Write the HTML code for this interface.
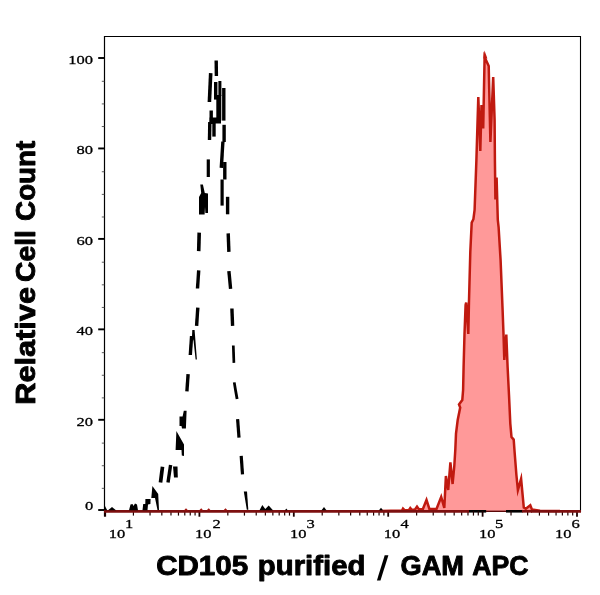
<!DOCTYPE html>
<html lang="en"><head><meta charset="utf-8"><title>CD105 purified / GAM APC</title>
<style>
html,body{margin:0;padding:0;background:#fff;}
body{width:600px;height:595px;overflow:hidden;position:relative;font-family:"Liberation Sans",sans-serif;}
svg{position:absolute;left:0;top:0;display:block;will-change:transform;}
.tk{font-family:"Liberation Serif",serif;font-size:13px;fill:#000;stroke:#000;stroke-width:0.3px;}
.ttl{font-family:"Liberation Sans",sans-serif;font-weight:bold;fill:#000;stroke:#000;stroke-width:0.9px;stroke-linejoin:round;}
</style></head><body>
<svg width="600" height="595" viewBox="0 0 600 595">
<rect x="0" y="0" width="600" height="595" fill="#ffffff"/>
<polygon points="380.0,511.0 402.0,510.5 403.0,508.6 404.5,510.2 409.0,510.0 410.3,508.0 412.0,510.0 415.0,509.5 417.0,506.6 419.0,509.5 422.9,509.0 426.5,500.0 429.4,509.0 436.5,509.0 441.2,497.0 444.3,508.0 445.9,476.0 448.2,490.0 450.4,462.4 452.6,484.0 454.3,466.0 455.3,450.0 456.0,433.7 457.7,420.0 460.2,407.5 459.0,404.5 462.3,400.0 463.1,390.0 463.6,367.0 464.5,334.0 465.6,305.0 466.2,302.5 468.3,334.0 469.0,300.8 470.3,252.0 471.7,222.6 473.4,219.2 474.6,210.0 476.4,160.0 477.3,130.0 478.3,97.0 480.3,151.0 481.5,105.0 483.2,128.5 484.6,57.0 488.7,66.0 490.4,142.0 493.2,77.0 494.6,120.0 494.9,160.0 495.4,199.5 496.6,177.5 497.8,220.0 498.6,227.0 500.6,260.4 502.6,310.0 503.5,334.0 504.3,360.0 506.3,334.5 507.6,367.0 509.0,395.0 510.3,423.6 511.5,437.0 513.7,439.6 514.6,452.0 516.4,475.0 517.9,490.0 521.1,478.8 523.8,507.6 525.8,508.8 530.3,505.3 532.0,509.6 540.0,510.8 560.0,511.0 560,511.3 380,511.3" fill="#ff9999"/>
<line x1="468.8" y1="511.3" x2="486.2" y2="511.3" stroke="#000" stroke-width="2.6"/>
<line x1="506.0" y1="511.3" x2="522.6" y2="511.3" stroke="#000" stroke-width="2.6"/>
<polyline points="380.0,511.0 402.0,510.5 403.0,508.6 404.5,510.2 409.0,510.0 410.3,508.0 412.0,510.0 415.0,509.5 417.0,506.6 419.0,509.5 422.9,509.0 426.5,500.0 429.4,509.0 436.5,509.0 441.2,497.0 444.3,508.0 445.9,476.0 448.2,490.0 450.4,462.4 452.6,484.0 454.3,466.0 455.3,450.0 456.0,433.7 457.7,420.0 460.2,407.5 459.0,404.5 462.3,400.0 463.1,390.0 463.6,367.0 464.5,334.0 465.6,305.0 466.2,302.5 468.3,334.0 469.0,300.8 470.3,252.0 471.7,222.6 473.4,219.2 474.6,210.0 476.4,160.0 477.3,130.0 478.3,97.0 480.3,151.0 481.5,105.0 483.2,128.5 484.6,57.0 488.7,66.0 490.4,142.0 493.2,77.0 494.6,120.0 494.9,160.0 495.4,199.5 496.6,177.5 497.8,220.0 498.6,227.0 500.6,260.4 502.6,310.0 503.5,334.0 504.3,360.0 506.3,334.5 507.6,367.0 509.0,395.0 510.3,423.6 511.5,437.0 513.7,439.6 514.6,452.0 516.4,475.0 517.9,490.0 521.1,478.8 523.8,507.6 525.8,508.8 530.3,505.3 532.0,509.6 540.0,510.8 560.0,511.0" fill="none" stroke="#c01a10" stroke-width="2.5" stroke-linejoin="miter" stroke-miterlimit="6"/>
<polygon points="484.5,50.6 483.3,58.5 487.4,58.5" fill="#c01a10"/>
<line x1="104.5" y1="36" x2="104.5" y2="516.6" stroke="#000" stroke-width="1.2"/>
<line x1="104" y1="36.5" x2="581" y2="36.5" stroke="#000" stroke-width="1.1"/>
<line x1="580.5" y1="36" x2="580.5" y2="512" stroke="#000" stroke-width="1.1"/>
<line x1="98.2" y1="510.00" x2="104.6" y2="510.00" stroke="#000" stroke-width="1.9"/>
<line x1="101.8" y1="488.34" x2="104.6" y2="488.34" stroke="#333" stroke-width="0.8"/>
<line x1="101.8" y1="465.73" x2="104.6" y2="465.73" stroke="#333" stroke-width="0.8"/>
<line x1="101.8" y1="443.11" x2="104.6" y2="443.11" stroke="#333" stroke-width="0.8"/>
<line x1="98.2" y1="419.80" x2="104.6" y2="419.80" stroke="#000" stroke-width="1.9"/>
<line x1="101.8" y1="397.89" x2="104.6" y2="397.89" stroke="#333" stroke-width="0.8"/>
<line x1="101.8" y1="375.27" x2="104.6" y2="375.27" stroke="#333" stroke-width="0.8"/>
<line x1="101.8" y1="352.66" x2="104.6" y2="352.66" stroke="#333" stroke-width="0.8"/>
<line x1="98.2" y1="329.35" x2="104.6" y2="329.35" stroke="#000" stroke-width="1.9"/>
<line x1="101.8" y1="307.44" x2="104.6" y2="307.44" stroke="#333" stroke-width="0.8"/>
<line x1="101.8" y1="284.82" x2="104.6" y2="284.82" stroke="#333" stroke-width="0.8"/>
<line x1="101.8" y1="262.21" x2="104.6" y2="262.21" stroke="#333" stroke-width="0.8"/>
<line x1="98.2" y1="238.90" x2="104.6" y2="238.90" stroke="#000" stroke-width="1.9"/>
<line x1="101.8" y1="216.99" x2="104.6" y2="216.99" stroke="#333" stroke-width="0.8"/>
<line x1="101.8" y1="194.38" x2="104.6" y2="194.38" stroke="#333" stroke-width="0.8"/>
<line x1="101.8" y1="171.76" x2="104.6" y2="171.76" stroke="#333" stroke-width="0.8"/>
<line x1="98.2" y1="148.45" x2="104.6" y2="148.45" stroke="#000" stroke-width="1.9"/>
<line x1="101.8" y1="126.54" x2="104.6" y2="126.54" stroke="#333" stroke-width="0.8"/>
<line x1="101.8" y1="103.92" x2="104.6" y2="103.92" stroke="#333" stroke-width="0.8"/>
<line x1="101.8" y1="81.31" x2="104.6" y2="81.31" stroke="#333" stroke-width="0.8"/>
<line x1="98.2" y1="58.00" x2="104.6" y2="58.00" stroke="#000" stroke-width="1.9"/>
<line x1="105.20" y1="511" x2="105.20" y2="516.7" stroke="#1a0000" stroke-width="1.8"/>
<line x1="133.42" y1="511" x2="133.42" y2="515.6" stroke="#200000" stroke-width="1.2"/>
<line x1="150.04" y1="511" x2="150.04" y2="515.6" stroke="#200000" stroke-width="1.2"/>
<line x1="161.83" y1="511" x2="161.83" y2="515.6" stroke="#200000" stroke-width="1.2"/>
<line x1="170.98" y1="511" x2="170.98" y2="515.6" stroke="#200000" stroke-width="1.2"/>
<line x1="178.46" y1="511" x2="178.46" y2="515.6" stroke="#200000" stroke-width="1.2"/>
<line x1="184.78" y1="511" x2="184.78" y2="515.6" stroke="#200000" stroke-width="1.2"/>
<line x1="190.25" y1="511" x2="190.25" y2="515.6" stroke="#200000" stroke-width="1.2"/>
<line x1="195.08" y1="511" x2="195.08" y2="515.6" stroke="#200000" stroke-width="1.2"/>
<line x1="199.40" y1="511" x2="199.40" y2="516.7" stroke="#1a0000" stroke-width="1.8"/>
<line x1="227.82" y1="511" x2="227.82" y2="515.6" stroke="#200000" stroke-width="1.2"/>
<line x1="244.44" y1="511" x2="244.44" y2="515.6" stroke="#200000" stroke-width="1.2"/>
<line x1="256.23" y1="511" x2="256.23" y2="515.6" stroke="#200000" stroke-width="1.2"/>
<line x1="265.38" y1="511" x2="265.38" y2="515.6" stroke="#200000" stroke-width="1.2"/>
<line x1="272.86" y1="511" x2="272.86" y2="515.6" stroke="#200000" stroke-width="1.2"/>
<line x1="279.18" y1="511" x2="279.18" y2="515.6" stroke="#200000" stroke-width="1.2"/>
<line x1="284.65" y1="511" x2="284.65" y2="515.6" stroke="#200000" stroke-width="1.2"/>
<line x1="289.48" y1="511" x2="289.48" y2="515.6" stroke="#200000" stroke-width="1.2"/>
<line x1="293.80" y1="511" x2="293.80" y2="516.7" stroke="#1a0000" stroke-width="1.8"/>
<line x1="322.22" y1="511" x2="322.22" y2="515.6" stroke="#200000" stroke-width="1.2"/>
<line x1="338.84" y1="511" x2="338.84" y2="515.6" stroke="#200000" stroke-width="1.2"/>
<line x1="350.63" y1="511" x2="350.63" y2="515.6" stroke="#200000" stroke-width="1.2"/>
<line x1="359.78" y1="511" x2="359.78" y2="515.6" stroke="#200000" stroke-width="1.2"/>
<line x1="367.26" y1="511" x2="367.26" y2="515.6" stroke="#200000" stroke-width="1.2"/>
<line x1="373.58" y1="511" x2="373.58" y2="515.6" stroke="#200000" stroke-width="1.2"/>
<line x1="379.05" y1="511" x2="379.05" y2="515.6" stroke="#200000" stroke-width="1.2"/>
<line x1="383.88" y1="511" x2="383.88" y2="515.6" stroke="#200000" stroke-width="1.2"/>
<line x1="388.20" y1="511" x2="388.20" y2="516.7" stroke="#1a0000" stroke-width="1.8"/>
<line x1="416.62" y1="511" x2="416.62" y2="515.6" stroke="#200000" stroke-width="1.2"/>
<line x1="433.24" y1="511" x2="433.24" y2="515.6" stroke="#200000" stroke-width="1.2"/>
<line x1="445.03" y1="511" x2="445.03" y2="515.6" stroke="#200000" stroke-width="1.2"/>
<line x1="454.18" y1="511" x2="454.18" y2="515.6" stroke="#200000" stroke-width="1.2"/>
<line x1="461.66" y1="511" x2="461.66" y2="515.6" stroke="#200000" stroke-width="1.2"/>
<line x1="467.98" y1="511" x2="467.98" y2="515.6" stroke="#200000" stroke-width="1.2"/>
<line x1="473.45" y1="511" x2="473.45" y2="515.6" stroke="#200000" stroke-width="1.2"/>
<line x1="478.28" y1="511" x2="478.28" y2="515.6" stroke="#200000" stroke-width="1.2"/>
<line x1="482.60" y1="511" x2="482.60" y2="516.7" stroke="#1a0000" stroke-width="1.8"/>
<line x1="511.02" y1="511" x2="511.02" y2="515.6" stroke="#200000" stroke-width="1.2"/>
<line x1="527.64" y1="511" x2="527.64" y2="515.6" stroke="#200000" stroke-width="1.2"/>
<line x1="539.43" y1="511" x2="539.43" y2="515.6" stroke="#200000" stroke-width="1.2"/>
<line x1="548.58" y1="511" x2="548.58" y2="515.6" stroke="#200000" stroke-width="1.2"/>
<line x1="556.06" y1="511" x2="556.06" y2="515.6" stroke="#200000" stroke-width="1.2"/>
<line x1="562.38" y1="511" x2="562.38" y2="515.6" stroke="#200000" stroke-width="1.2"/>
<line x1="567.85" y1="511" x2="567.85" y2="515.6" stroke="#200000" stroke-width="1.2"/>
<line x1="572.68" y1="511" x2="572.68" y2="515.6" stroke="#200000" stroke-width="1.2"/>
<line x1="577.00" y1="511" x2="577.00" y2="516.7" stroke="#1a0000" stroke-width="1.8"/>
<line x1="104" y1="511.3" x2="423" y2="511.3" stroke="#7d0f0f" stroke-width="2.7"/>
<line x1="531" y1="511.3" x2="581" y2="511.3" stroke="#7d0f0f" stroke-width="2.7"/>
<line x1="423" y1="511.3" x2="469" y2="511.3" stroke="#7d0f0f" stroke-width="2.7"/>
<line x1="486" y1="511.3" x2="506" y2="511.3" stroke="#5a0808" stroke-width="1.4"/>
<line x1="522" y1="511.3" x2="532" y2="511.3" stroke="#7d0f0f" stroke-width="2.7"/>
<polygon points="183.8,510.4 186.0,508.2 188.2,510.4" fill="#a01510"/>
<polygon points="199.0,510.4 201.2,508.2 203.4,510.4" fill="#a01510"/>
<polygon points="206.5,510.4 208.7,508.2 210.9,510.4" fill="#a01510"/>
<polygon points="223.3,510.4 225.5,508.2 227.7,510.4" fill="#a01510"/>
<line x1="216.2" y1="60.5" x2="216.4" y2="76.0" stroke="#000" stroke-width="3.4"/>
<line x1="210.7" y1="73.2" x2="209.4" y2="102.0" stroke="#000" stroke-width="3.6"/>
<line x1="215.7" y1="82.0" x2="215.7" y2="99.6" stroke="#000" stroke-width="3.4"/>
<line x1="219.9" y1="81.0" x2="219.9" y2="96.0" stroke="#000" stroke-width="3.0"/>
<line x1="218.8" y1="95.0" x2="218.8" y2="120.6" stroke="#000" stroke-width="5.0"/>
<line x1="223.8" y1="88.0" x2="223.8" y2="120.6" stroke="#000" stroke-width="3.4"/>
<line x1="211.2" y1="110.5" x2="211.2" y2="124.0" stroke="#000" stroke-width="3.4"/>
<line x1="209.8" y1="122.0" x2="209.5" y2="140.0" stroke="#000" stroke-width="3.4"/>
<line x1="214.0" y1="118.0" x2="214.0" y2="136.6" stroke="#000" stroke-width="3.4"/>
<line x1="224.1" y1="124.8" x2="224.1" y2="142.0" stroke="#000" stroke-width="3.4"/>
<line x1="222.9" y1="141.7" x2="221.3" y2="167.8" stroke="#000" stroke-width="3.4"/>
<line x1="208.3" y1="159.4" x2="208.3" y2="177.0" stroke="#000" stroke-width="3.2"/>
<line x1="224.8" y1="162.0" x2="224.8" y2="179.5" stroke="#000" stroke-width="3.4"/>
<line x1="222.1" y1="179.5" x2="222.1" y2="205.6" stroke="#000" stroke-width="3.2"/>
<line x1="227.6" y1="196.8" x2="227.6" y2="214.3" stroke="#000" stroke-width="3.4"/>
<line x1="199.2" y1="232.6" x2="198.7" y2="251.1" stroke="#000" stroke-width="3.6"/>
<line x1="198.7" y1="270.4" x2="197.5" y2="288.5" stroke="#000" stroke-width="3.4"/>
<line x1="197.8" y1="307.7" x2="196.6" y2="325.9" stroke="#000" stroke-width="3.4"/>
<line x1="228.2" y1="233.4" x2="228.9" y2="251.9" stroke="#000" stroke-width="3.4"/>
<line x1="228.9" y1="271.2" x2="230.6" y2="288.9" stroke="#000" stroke-width="3.4"/>
<line x1="231.9" y1="308.5" x2="232.6" y2="325.9" stroke="#000" stroke-width="3.4"/>
<line x1="191.6" y1="336.0" x2="190.3" y2="355.0" stroke="#000" stroke-width="3.4"/>
<line x1="188.1" y1="374.1" x2="186.9" y2="391.4" stroke="#000" stroke-width="3.4"/>
<line x1="233.3" y1="345.5" x2="233.9" y2="362.9" stroke="#000" stroke-width="2.7"/>
<line x1="237.6" y1="419.2" x2="239.0" y2="437.7" stroke="#000" stroke-width="3.2"/>
<line x1="241.2" y1="455.9" x2="242.5" y2="474.3" stroke="#000" stroke-width="3.2"/>
<line x1="170.6" y1="465.0" x2="168.0" y2="482.5" stroke="#000" stroke-width="3.4"/>
<line x1="162.5" y1="466.7" x2="160.5" y2="482.5" stroke="#000" stroke-width="3.7"/>
<polygon points="209.6,117.5 221.0,117.5 221.0,123.5 209.6,123.5" fill="#000"/>
<polygon points="200.3,184.5 202.9,184.5 204.8,193.0 208.0,193.5 208.0,213.0 205.4,213.0 205.0,207.0 204.6,214.5 199.0,214.5 199.0,197.0 201.2,193.0" fill="#000"/>
<polygon points="192.3,330.0 194.6,330.0 196.9,359.5 195.6,359.5 193.6,341.0 192.0,336.0" fill="#000"/>
<polygon points="232.9,382.5 235.6,382.3 237.0,390.4 238.5,398.8 235.7,399.3 234.2,390.8" fill="#000"/>
<polygon points="183.8,410.8 186.6,410.8 185.9,428.5 182.0,428.5 181.5,426.0 179.5,426.0 179.5,416.5 182.6,416.5" fill="#000"/>
<polygon points="176.4,431.0 184.0,444.5 184.0,456.0 181.8,455.5 181.5,450.0 175.6,450.0" fill="#000"/>
<polygon points="173.0,466.5 177.5,466.5 177.8,477.5 174.0,477.5" fill="#000"/>
<polygon points="152.4,486.0 158.2,494.0 159.0,510.0 157.5,510.0 155.0,498.0 151.3,498.0" fill="#000"/>
<polygon points="145.4,499.0 150.6,499.0 150.4,504.0 148.0,504.5 147.5,510.3 142.5,510.3 143.2,504.0 145.3,504.0" fill="#000"/>
<polygon points="129.0,510.3 130.5,504.5 132.5,504.0 133.5,506.0 135.0,503.5 137.0,504.5 138.0,510.3" fill="#000"/>
<polygon points="108.0,510.3 112.0,507.0 116.0,510.3" fill="#000"/>
<polygon points="104.5,505.0 107.2,510.3 104.5,510.3" fill="#000"/>
<polygon points="243.8,491.5 247.0,491.5 248.3,509.8 246.8,509.8" fill="#000"/>
<polygon points="259.5,510.3 262.3,505.0 265.3,509.0 268.7,505.5 273.0,510.3" fill="#000"/>
<polygon points="285.0,510.3 286.3,508.6 287.6,510.3" fill="#000"/>
<polygon points="321.5,510.3 324.0,507.0 326.5,510.3" fill="#000"/>
<polygon points="379.0,510.3 381.0,507.8 383.0,510.3" fill="#000"/>
<text class="tk" transform="translate(93.00,425.50) scale(1.27,1)" text-anchor="end">20</text>
<text class="tk" transform="translate(93.00,335.05) scale(1.27,1)" text-anchor="end">40</text>
<text class="tk" transform="translate(93.00,244.60) scale(1.27,1)" text-anchor="end">60</text>
<text class="tk" transform="translate(93.00,154.15) scale(1.27,1)" text-anchor="end">80</text>
<text class="tk" transform="translate(93.00,63.70) scale(1.27,1)" text-anchor="end">100</text>
<text class="tk" transform="translate(93.30,509.60) scale(1.27,1)" text-anchor="end">0</text>
<text class="tk" transform="translate(108.80,538.00) scale(1.27,1)" text-anchor="start">10</text>
<text class="tk" transform="translate(125.10,528.40) scale(1.27,1)" text-anchor="start">1</text>
<text class="tk" transform="translate(194.90,538.00) scale(1.27,1)" text-anchor="start">10</text>
<text class="tk" transform="translate(212.40,528.40) scale(1.27,1)" text-anchor="start">2</text>
<text class="tk" transform="translate(290.00,538.00) scale(1.27,1)" text-anchor="start">10</text>
<text class="tk" transform="translate(306.50,528.40) scale(1.27,1)" text-anchor="start">3</text>
<text class="tk" transform="translate(383.80,538.00) scale(1.27,1)" text-anchor="start">10</text>
<text class="tk" transform="translate(400.50,528.40) scale(1.27,1)" text-anchor="start">4</text>
<text class="tk" transform="translate(478.90,538.00) scale(1.27,1)" text-anchor="start">10</text>
<text class="tk" transform="translate(495.10,528.40) scale(1.27,1)" text-anchor="start">5</text>
<text class="tk" transform="translate(554.90,538.00) scale(1.27,1)" text-anchor="start">10</text>
<text class="tk" transform="translate(571.50,528.40) scale(1.27,1)" text-anchor="start">6</text>
<g class="ttl" font-size="27">
<text x="156.18" y="575.2" textLength="92.02" lengthAdjust="spacingAndGlyphs">CD105</text>
<text x="257.87" y="575.2" textLength="107.51" lengthAdjust="spacingAndGlyphs">purified</text>
<text x="400.49" y="575.2" textLength="63.52" lengthAdjust="spacingAndGlyphs">GAM</text>
<text x="472.25" y="575.2" textLength="56.26" lengthAdjust="spacingAndGlyphs">APC</text>
</g>
<polygon points="384.7,555.3 388.4,555.3 380.5,580.5 376.9,580.5" fill="#000"/>
<g class="ttl" font-size="27" transform="translate(35.4,403.0) rotate(-90)">
<text x="-1.7" y="0" textLength="117.64" lengthAdjust="spacingAndGlyphs">Relative</text>
<text x="121.01" y="0" textLength="51.89" lengthAdjust="spacingAndGlyphs">Cell</text>
<text x="182.13" y="0" textLength="79.99" lengthAdjust="spacingAndGlyphs">Count</text>
</g>
</svg>
</body></html>
